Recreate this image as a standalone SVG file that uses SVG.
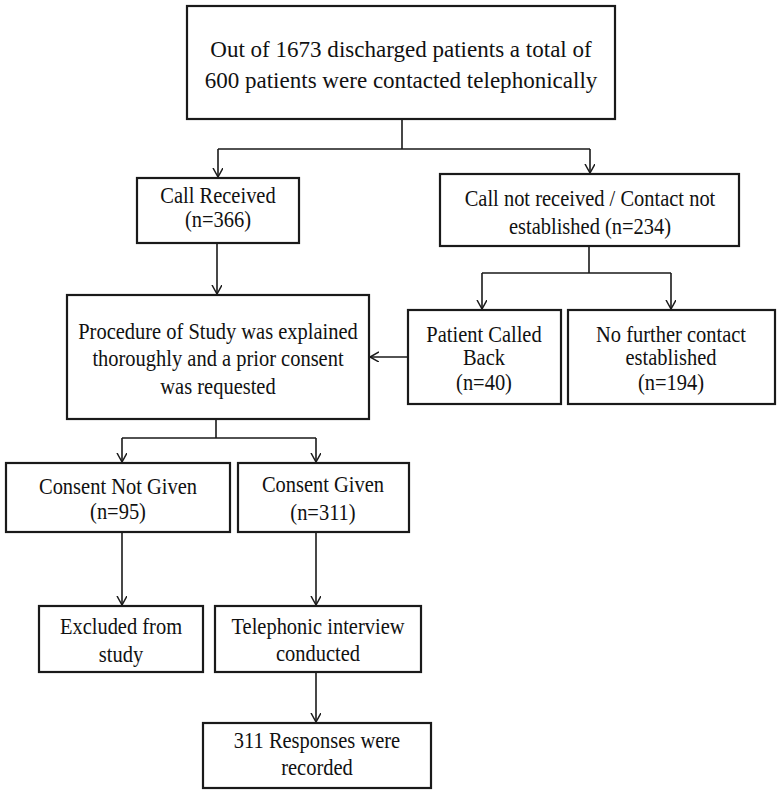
<svg xmlns="http://www.w3.org/2000/svg" width="780" height="798" viewBox="0 0 780 798">
<style>
.box{fill:#fff;stroke:#1a1a1a;stroke-width:2.2}
.t{font-family:"Liberation Serif","Times New Roman",serif;font-size:22.5px;fill:#111;text-anchor:middle}
.tl{font-size:24px}
.c{fill:none;stroke:#1a1a1a;stroke-width:1.6}
</style>
<defs>
<marker id="ah" markerUnits="userSpaceOnUse" markerWidth="12" markerHeight="12" refX="9" refY="5" orient="auto">
<path d="M0,0 L9,5 L0,10" fill="none" stroke="#1a1a1a" stroke-width="1.5"/>
</marker>
</defs>
<rect width="780" height="798" fill="#fff"/>
<g id="connectors">
<path class="c" d="M402,119 V149 M218,149 H590"/>
<path class="c" d="M218,149 V177" marker-end="url(#ah)"/>
<path class="c" d="M590,149 V173" marker-end="url(#ah)"/>
<path class="c" d="M217,243 V294" marker-end="url(#ah)"/>
<path class="c" d="M589,246 V273 M482,273 H671"/>
<path class="c" d="M482,273 V309" marker-end="url(#ah)"/>
<path class="c" d="M671,273 V309" marker-end="url(#ah)"/>
<path class="c" d="M408,357 H370" marker-end="url(#ah)"/>
<path class="c" d="M216,419 V438 M122,438 H316"/>
<path class="c" d="M122,438 V462" marker-end="url(#ah)"/>
<path class="c" d="M316,438 V462" marker-end="url(#ah)"/>
<path class="c" d="M122,532 V605" marker-end="url(#ah)"/>
<path class="c" d="M316,532 V605" marker-end="url(#ah)"/>
<path class="c" d="M316,672 V722" marker-end="url(#ah)"/>
</g>
<g id="top">
<rect class="box" x="187" y="6" width="428" height="113"/>
<text class="t tl" transform="translate(401,57) scale(0.96,1)">Out of 1673 discharged patients a total of</text>
<text class="t tl" transform="translate(401,88) scale(0.96,1)">600 patients were contacted telephonically</text>
</g>
<g id="received">
<rect class="box" x="137" y="178" width="162" height="65"/>
<text class="t" transform="translate(218,203) scale(0.91,1)">Call Received</text>
<text class="t" transform="translate(218,227) scale(0.91,1)">(n=366)</text>
</g>
<g id="notreceived">
<rect class="box" x="440" y="174" width="299" height="72"/>
<text class="t" transform="translate(590,206) scale(0.91,1)">Call not received / Contact not</text>
<text class="t" transform="translate(590,234) scale(0.91,1)">established (n=234)</text>
</g>
<g id="procedure">
<rect class="box" x="67" y="295" width="302" height="124"/>
<text class="t" transform="translate(218,339) scale(0.91,1)">Procedure of Study was explained</text>
<text class="t" transform="translate(218,366) scale(0.91,1)">thoroughly and a prior consent</text>
<text class="t" transform="translate(218,394) scale(0.91,1)">was requested</text>
</g>
<g id="calledback">
<rect class="box" x="408" y="310" width="153" height="94"/>
<text class="t" transform="translate(484,342) scale(0.91,1)">Patient Called</text>
<text class="t" transform="translate(484,365) scale(0.91,1)">Back</text>
<text class="t" transform="translate(484,390) scale(0.91,1)">(n=40)</text>
</g>
<g id="nofurther">
<rect class="box" x="568" y="310" width="207" height="94"/>
<text class="t" transform="translate(671,342) scale(0.91,1)">No further contact</text>
<text class="t" transform="translate(671,365) scale(0.91,1)">established</text>
<text class="t" transform="translate(671,390) scale(0.91,1)">(n=194)</text>
</g>
<g id="notgiven">
<rect class="box" x="6" y="463" width="224" height="69"/>
<text class="t" transform="translate(118,494) scale(0.91,1)">Consent Not Given</text>
<text class="t" transform="translate(118,519) scale(0.91,1)">(n=95)</text>
</g>
<g id="given">
<rect class="box" x="238" y="463" width="171" height="69"/>
<text class="t" transform="translate(323,492) scale(0.91,1)">Consent Given</text>
<text class="t" transform="translate(323,520) scale(0.91,1)">(n=311)</text>
</g>
<g id="excluded">
<rect class="box" x="39" y="606" width="164" height="66"/>
<text class="t" transform="translate(121,634) scale(0.91,1)">Excluded from</text>
<text class="t" transform="translate(121,662) scale(0.91,1)">study</text>
</g>
<g id="interview">
<rect class="box" x="215" y="606" width="206" height="66"/>
<text class="t" transform="translate(318,634) scale(0.91,1)">Telephonic interview</text>
<text class="t" transform="translate(318,661) scale(0.91,1)">conducted</text>
</g>
<g id="responses">
<rect class="box" x="203" y="723" width="228" height="65"/>
<text class="t" transform="translate(317,748) scale(0.91,1)">311 Responses were</text>
<text class="t" transform="translate(317,775) scale(0.91,1)">recorded</text>
</g>
</svg>
